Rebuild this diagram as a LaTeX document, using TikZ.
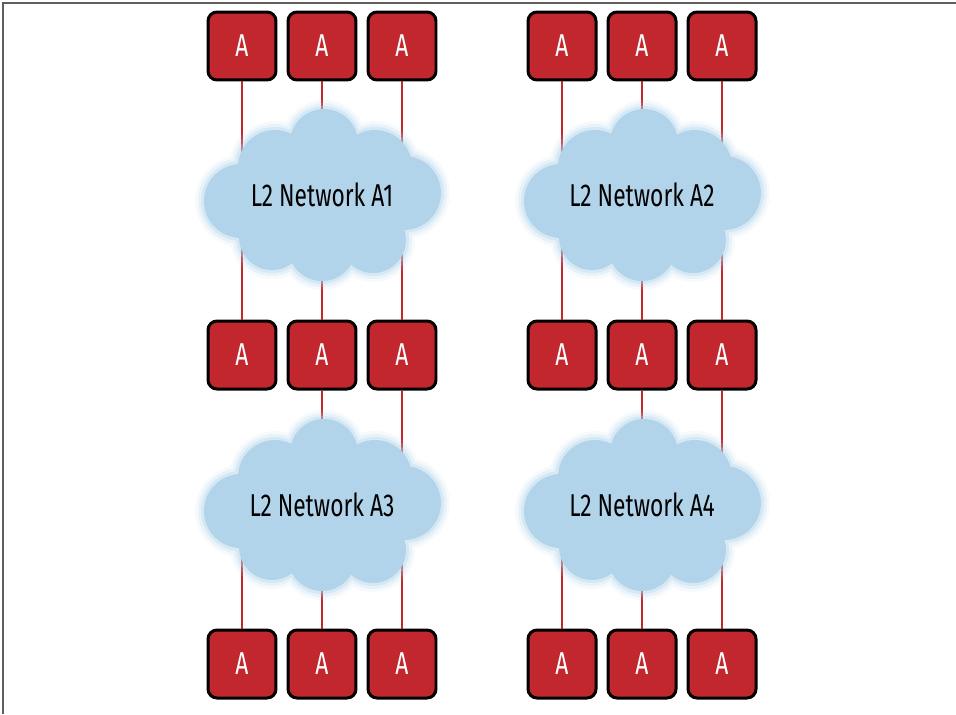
\documentclass[tikz,border=0pt]{standalone}
\usepackage{fontspec}
\newfontfamily\condfont{Fira Sans}[FakeStretch=0.72]
\usetikzlibrary{positioning}
\definecolor{appred}{RGB}{193,39,45}
\definecolor{cloudblue}{RGB}{178,212,234}
\definecolor{framegray}{RGB}{95,95,95}

\begin{document}
\begin{tikzpicture}[
  x=0.02cm, y=-0.02cm,
  appbox/.style={draw=black, fill=appred, rounded corners=0.18cm,
                 line width=0.06cm, minimum size=1.36cm, inner sep=0pt,
                 text=white, font=\condfont\fontsize{18}{21}\selectfont},
  link/.style={draw=appred, line width=0.05cm},
  netlbl/.style={font=\condfont\fontsize{18}{21}\selectfont, inner sep=0pt},
]
\useasboundingbox (0,0) rectangle (956,714);

%% Frame (left and top edge only)
\draw[framegray, line width=0.03cm] (3,714) -- (3,3) -- (956,3);

%% Application boxes: t = top row, m = middle row, b = bottom row
\foreach \i/\x in {1/242,2/322,3/402,4/562,5/642,6/722}{
  \node[appbox] (t\i) at (\x,46)  {A};
  \node[appbox] (m\i) at (\x,355) {A};
  \node[appbox] (b\i) at (\x,664) {A};
}

%% Cloud centres
\coordinate (c1) at (322,195);
\coordinate (c2) at (642,195);
\coordinate (c3) at (322,505);
\coordinate (c4) at (642,505);

%% Links (drawn before the clouds, so they vanish behind them)
\foreach \i in {1,...,6}{
  \draw[link] (t\i) -- (m\i);
}
\foreach \i in {2,3,5,6}{
  \draw[link] (m\i) -- (b\i);
}
\draw[link] (b1) -- (b1 |- c3);
\draw[link] (b4) -- (b4 |- c4);

%% Clouds: layered fills for a soft edge
\foreach \c in {c1,c2,c3,c4}{
  \begin{scope}[shift={(\c)}]
    \foreach \grow/\op in {9/0.12, 6/0.2, 3/0.35, 0/1}{
      \fill[cloudblue, opacity=\op]
        (2,-52)   circle[radius=34+\grow]
        (-47,-28) circle[radius=37+\grow]
        (53,-28)  circle[radius=37+\grow]
        (82,-2)   circle[radius=37+\grow]
        (-81,6)   circle[radius=37+\grow]
        (-50,42)  circle[radius=33+\grow]
        (0,52)    circle[radius=34+\grow]
        (51,45)   circle[radius=33+\grow]
        (0,0)     ellipse[x radius=92+\grow, y radius=60+\grow];
    }
  \end{scope}
}

%% Network labels
\node[netlbl] (n1) at (c1) {L2 Network A1};
\node[netlbl] (n2) at (c2) {L2 Network A2};
\node[netlbl] (n3) at (c3) {L2 Network A3};
\node[netlbl] (n4) at (c4) {L2 Network A4};

\end{tikzpicture}
\end{document}
